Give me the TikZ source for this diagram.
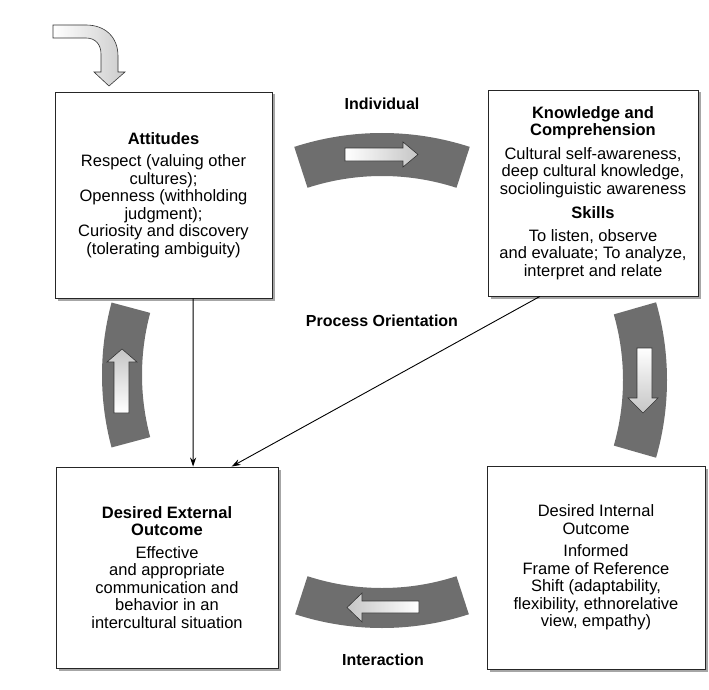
\documentclass[tikz,border=0pt]{standalone}
\usepackage{fontspec}
\setmainfont{Liberation Sans}
\usetikzlibrary{calc,arrows.meta,shadows}
\definecolor{bandgray}{RGB}{110,110,110}
\begin{document}
\begin{tikzpicture}[x=1pt,y=-1pt,
  box/.style={draw=black!85, line width=0.9pt, fill=white, inner sep=0pt, align=center,
    font=\fontsize{16.5}{17.5}\selectfont,
    general shadow={fill=black!35, shadow xshift=2.5pt, shadow yshift=-2.5pt}},
  lab/.style={font=\fontsize{16}{18}\selectfont\bfseries},
  conn/.style={draw=black, line width=0.9pt, -{Stealth[length=9pt,width=6pt]}},
  band/.style={fill=bandgray},
  inarrow/.style={draw=black!80, line width=0.6pt}
]
\useasboundingbox (0,0) rectangle (709,690);

% boxes
\node[box, minimum width=217pt, minimum height=206pt] (att) at (163.5,195)
 {\textbf{Attitudes}\\[5pt] Respect (valuing other\\ cultures);\\ Openness (withholding\\ judgment);\\ Curiosity and discovery\\ (tolerating ambiguity)};
\node[box, minimum width=210pt, minimum height=206pt] (know) at (593,193)
 {\textbf{Knowledge and}\\ \textbf{Comprehension}\\[6pt] Cultural self-awareness,\\ deep cultural knowledge,\\ sociolinguistic awareness\\[7pt] \textbf{Skills}\\[5pt] To listen, observe\\ and evaluate; To analyze,\\ interpret and relate};
\node[box, minimum width=222pt, minimum height=201pt] (ext) at (167,567.5)
 {\textbf{Desired External}\\ \textbf{Outcome}\\[5pt] Effective\\ and appropriate\\ communication and\\ behavior in an\\ intercultural situation};
\node[box, minimum width=218pt, minimum height=203pt] (int) at (596,567.5)
 {Desired Internal\\ Outcome\\[5pt] Informed\\ Frame of Reference\\ Shift (adaptability,\\ flexibility, ethnorelative\\ view, empathy)};

% labels
\node[lab] (lind) at (382,104) {Individual};
\node[lab] (lproc) at (382,321) {Process Orientation};
\node[lab] (linter) at (383,660) {Interaction};

% connectors
\draw[conn] ($(att.south west)!0.636!(att.south east)$) -- ($(ext.north west)!0.617!(ext.north east)$);
\draw[conn] ($(know.south west)!0.248!(know.south east)$) -- ($(ext.north west)!0.79!(ext.north east)$);

% curved bands
\fill[band] ($(382,417)+(252:284)$) arc[start angle=252, end angle=288, radius=284]
  -- ($(382,417)+(288:241)$) arc[start angle=288, end angle=252, radius=241] -- cycle;
\fill[band] ($(382,347)+(72:281)$) arc[start angle=72, end angle=108, radius=281]
  -- ($(382,347)+(108:241)$) arc[start angle=108, end angle=72, radius=241] -- cycle;
\fill[band] ($(382,375)+(165:280)$) arc[start angle=165, end angle=195, radius=280]
  -- ($(382,375)+(195:240)$) arc[start angle=195, end angle=165, radius=240] -- cycle;
\fill[band] ($(385,380)+(-16:282)$) arc[start angle=-16, end angle=16, radius=282]
  -- ($(385,380)+(16:238)$) arc[start angle=16, end angle=-16, radius=238] -- cycle;

% inner arrows
\draw[inarrow, left color=white, right color=gray!45]
  (345,148) -- (403,148) -- (403,142) -- (418,154.5) -- (403,167) -- (403,161) -- (345,161) -- cycle;
\draw[inarrow, left color=gray!45, right color=white]
  (419,601) -- (362,601) -- (362,593) -- (347,607.5) -- (362,622) -- (362,613) -- (419,613) -- cycle;
\draw[inarrow, top color=gray!45, bottom color=white]
  (114,413) -- (114,362) -- (107,362) -- (122,349) -- (137,362) -- (129,362) -- (129,413) -- cycle;
\draw[inarrow, top color=white, bottom color=gray!45]
  (637,348) -- (637,398) -- (628,398) -- (643,413) -- (658,398) -- (652,398) -- (652,348) -- cycle;

% entry bent arrow
\draw[inarrow, left color=white, right color=gray!40]
  (53,25) -- (86,25) .. controls (105,25) and (118,37) .. (118,56) -- (118,72) -- (125,72)
  -- (109,86) -- (94,72) -- (101,72) -- (101,54) .. controls (101,44) and (95,38) .. (86,38)
  -- (53,38) -- cycle;
\end{tikzpicture}
\end{document}
